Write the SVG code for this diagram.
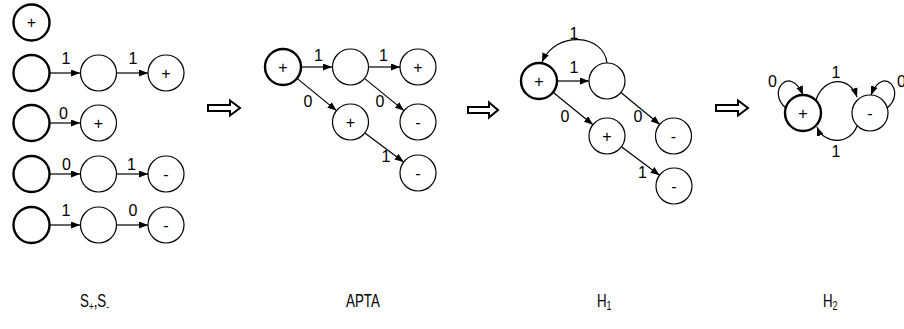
<svg xmlns="http://www.w3.org/2000/svg" width="904" height="329" viewBox="0 0 904 329">
<style>
.n{fill:#fff;stroke:#000;stroke-width:1.2}
.s{fill:#fff;stroke:#000;stroke-width:2.4}
.e{fill:none;stroke:#000;stroke-width:1.2;marker-end:url(#ah)}
.t{font-family:"Liberation Sans",Arial,sans-serif;font-size:16px;fill:#000}
.c{text-anchor:middle}
.big{fill:#fff;stroke:#000;stroke-width:2}
.cap{font-family:"Liberation Sans",Arial,sans-serif;font-size:18px;fill:#000}
</style>
<defs>
<marker id="ah" markerUnits="userSpaceOnUse" markerWidth="9" markerHeight="7" refX="9" refY="3.5" orient="auto">
<path d="M0,0 L9,3.5 L0,7 z" fill="#000"/>
</marker>
</defs>
<rect width="904" height="329" fill="#fff"/>

<g id="connectors">
<line class="e" x1="50" y1="73" x2="80" y2="73"/>
<line class="e" x1="117" y1="73" x2="148" y2="73"/>
<line class="e" x1="50" y1="123" x2="80" y2="123"/>
<line class="e" x1="50" y1="174" x2="80" y2="174"/>
<line class="e" x1="117" y1="174" x2="148" y2="174"/>
<line class="e" x1="50" y1="225" x2="80" y2="225"/>
<line class="e" x1="117" y1="225" x2="148" y2="225"/>
<line class="e" x1="301" y1="67" x2="332" y2="67"/>
<line class="e" x1="368.5" y1="67" x2="400" y2="67"/>
<line class="e" x1="297" y1="78.4" x2="336.5" y2="110.6"/>
<line class="e" x1="364.5" y1="78.4" x2="404" y2="110.6"/>
<line class="e" x1="364.9" y1="132.9" x2="403.6" y2="162.1"/>
<line class="e" x1="557" y1="81" x2="589" y2="81"/>
<line class="e" x1="553" y1="92.3" x2="593" y2="124.7"/>
<line class="e" x1="620.9" y1="92.5" x2="659.8" y2="124.5"/>
<line class="e" x1="621.4" y1="146.8" x2="659.6" y2="175.2"/>
<path class="e" d="M607,63 C604,34 556,30 542,62"/>
<path class="e" d="M816,100 C824,76 850,76 857,97"/>
<path class="e" d="M857,126 C850,145 824,145 817,127"/>
<path class="e" d="M786,108 C766,92 790,64 803,95"/>
<path class="e" d="M887,108 C907,92 883,64 871,95"/>
</g>

<g id="edge-labels" class="t">
<text x="66" y="64" class="c">1</text>
<text x="133" y="64" class="c">1</text>
<text x="63.5" y="119" class="c">0</text>
<text x="66.5" y="170" class="c">0</text>
<text x="131.5" y="170" class="c">1</text>
<text x="66" y="216" class="c">1</text>
<text x="133" y="216" class="c">0</text>
<text x="318.5" y="61" class="c">1</text>
<text x="383.5" y="61" class="c">1</text>
<text x="308" y="107" class="c">0</text>
<text x="380" y="107" class="c">0</text>
<text x="386" y="162" class="c">1</text>
<text x="574" y="39" class="c">1</text>
<text x="574" y="73" class="c">1</text>
<text x="565" y="122" class="c">0</text>
<text x="638" y="122" class="c">0</text>
<text x="642.5" y="178" class="c">1</text>
<text x="772.5" y="87" class="c">0</text>
<text x="836" y="78" class="c">1</text>
<text x="836" y="157" class="c">1</text>
<text x="897" y="87">0</text>
</g>

<g id="s1"><circle class="s" cx="31.5" cy="22.5" r="18"/><text class="t c" x="31.5" y="28">+</text></g>
<g id="s2a"><circle class="s" cx="31.5" cy="73" r="18"/></g>
<g id="s2b"><circle class="n" cx="98.5" cy="73" r="18"/></g>
<g id="s2c"><circle class="n" cx="166" cy="73" r="18"/><text class="t c" x="166" y="78.5">+</text></g>
<g id="s3a"><circle class="s" cx="31.5" cy="123" r="18"/></g>
<g id="s3b"><circle class="n" cx="98.5" cy="123" r="18"/><text class="t c" x="98.5" y="128.5">+</text></g>
<g id="s4a"><circle class="s" cx="31.5" cy="174" r="18"/></g>
<g id="s4b"><circle class="n" cx="98.5" cy="174" r="18"/></g>
<g id="s4c"><circle class="n" cx="166" cy="174" r="18"/><text class="t c" x="166" y="180">-</text></g>
<g id="s5a"><circle class="s" cx="31.5" cy="225" r="18"/></g>
<g id="s5b"><circle class="n" cx="98.5" cy="225" r="18"/></g>
<g id="s5c"><circle class="n" cx="166" cy="225" r="18"/><text class="t c" x="166" y="231">-</text></g>

<g id="a0"><circle class="s" cx="283" cy="67" r="18"/><text class="t c" x="283" y="72.5">+</text></g>
<g id="a1"><circle class="n" cx="350.5" cy="67" r="18"/></g>
<g id="a2"><circle class="n" cx="418" cy="67" r="18"/><text class="t c" x="418" y="72.5">+</text></g>
<g id="a3"><circle class="n" cx="418" cy="122" r="18"/><text class="t c" x="418" y="128">-</text></g>
<g id="a4"><circle class="n" cx="350.5" cy="122" r="18"/><text class="t c" x="350.5" y="127.5">+</text></g>
<g id="a5"><circle class="n" cx="418" cy="173" r="18"/><text class="t c" x="418" y="179">-</text></g>

<g id="h0"><circle class="s" cx="539" cy="81" r="18"/><text class="t c" x="539" y="86.5">+</text></g>
<g id="h1"><circle class="n" cx="607" cy="81" r="18"/></g>
<g id="h2"><circle class="n" cx="607" cy="136" r="18"/><text class="t c" x="607" y="141.5">+</text></g>
<g id="h3"><circle class="n" cx="673.5" cy="136" r="18"/><text class="t c" x="673.5" y="142">-</text></g>
<g id="h4"><circle class="n" cx="674" cy="186" r="18"/><text class="t c" x="674" y="192">-</text></g>

<g id="g0"><circle class="s" cx="803" cy="113" r="18"/><text class="t c" x="803" y="118.5">+</text></g>
<g id="g1"><circle class="n" cx="870" cy="113" r="18"/><text class="t c" x="870" y="119">-</text></g>

<g id="arrows">
<polygon class="big" points="208,105 230,105 230,100.5 240,108 230,115.5 230,111 208,111"/>
<polygon class="big" points="468,107 489,107 489,102.5 498,110 489,117.5 489,113 468,113"/>
<polygon class="big" points="716,105 738,105 738,100.5 748,108 738,115.5 738,111 716,111"/>
</g>

<g id="captions" class="cap">
<text transform="translate(80,307) scale(0.74,1)">S<tspan font-size="11" dy="3">+</tspan><tspan dy="-3">,S</tspan><tspan font-size="11" dy="3">-</tspan></text>
<text transform="translate(346,307) scale(0.74,1)">APTA</text>
<text transform="translate(597,307) scale(0.74,1)">H<tspan font-size="12" dy="3">1</tspan></text>
<text transform="translate(823,307) scale(0.74,1)">H<tspan font-size="12" dy="3">2</tspan></text>
</g>
</svg>
